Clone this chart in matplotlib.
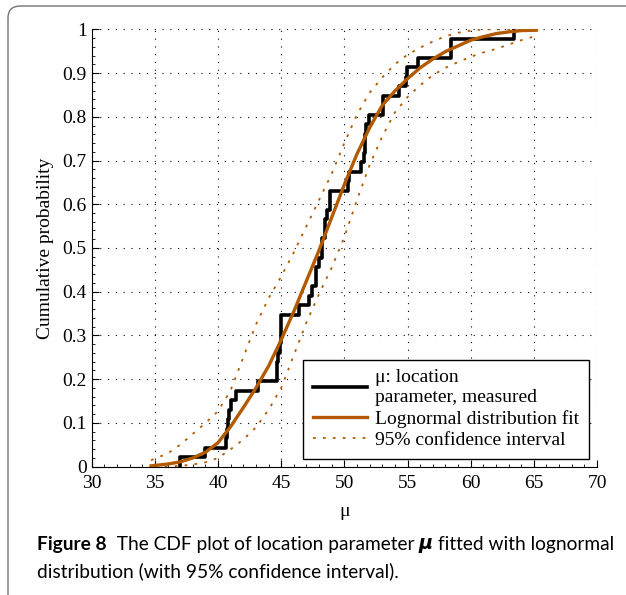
import numpy as np
import matplotlib.pyplot as plt
from matplotlib.patches import FancyBboxPatch
from matplotlib.ticker import MultipleLocator

# measured location parameter values (sorted)
mu_measured = [37.0, 39.0, 40.66, 40.68, 40.79, 40.85, 41.06, 41.45, 43.2,
               44.66, 44.7, 44.75, 44.93, 44.95, 44.97, 45.0, 46.4, 47.24,
               47.45, 47.72, 47.75, 48.03, 48.22, 48.25, 48.43, 48.45, 48.61,
               48.88, 48.9, 50.27, 50.35, 51.33, 51.59, 51.62, 51.65, 51.7,
               51.98, 53.03, 53.08, 54.35, 54.88, 54.92, 55.8, 58.43, 58.48,
               63.44]

# lognormal fit curve
fit_x = [34.7, 36, 37, 38, 39, 40, 41, 42, 43, 44, 45, 46, 47, 48, 49, 50,
         51, 52, 53, 54, 55, 56, 57, 58, 59, 60, 61, 62, 63, 64, 65.2]
fit_y = [0.002, 0.006, 0.011, 0.02, 0.033, 0.055, 0.092, 0.135, 0.18, 0.23,
         0.29, 0.355, 0.425, 0.495, 0.57, 0.645, 0.715, 0.775, 0.826, 0.859,
         0.887, 0.912, 0.932, 0.949, 0.962, 0.975, 0.983, 0.99, 0.994, 0.997,
         0.998]

# 95% confidence bounds
upper_x = [34.7, 36, 37, 38, 39, 40, 41, 42, 43, 44, 45, 46, 47, 48, 49, 50,
           51, 52, 53, 54, 55, 56, 57, 58, 59, 60, 61, 65.2]
upper_y = [0.015, 0.03, 0.05, 0.075, 0.1, 0.127, 0.175, 0.25, 0.325, 0.385,
           0.435, 0.49, 0.55, 0.61, 0.67, 0.74, 0.805, 0.855, 0.89, 0.92,
           0.942, 0.958, 0.972, 0.984, 0.992, 0.997, 1.0, 1.0]
lower_x = [35, 36, 37, 38, 39, 40, 41, 42, 43, 44, 45, 46, 47, 48, 49, 50,
           51, 52, 53, 54, 55, 56, 57, 58, 59, 60, 61, 62, 63, 64, 65.2]
lower_y = [0.0, 0.0005, 0.002, 0.005, 0.01, 0.02, 0.04, 0.062, 0.09, 0.13,
           0.18, 0.255, 0.33, 0.395, 0.455, 0.525, 0.61, 0.69, 0.755, 0.81,
           0.845, 0.872, 0.895, 0.912, 0.925, 0.937, 0.947, 0.955, 0.965,
           0.975, 0.985]

orange = '#b35a00'

plt.rcParams['font.family'] = ['Liberation Serif', 'DejaVu Serif']

fig = plt.figure(figsize=(6.26, 5.95), dpi=100)
ax = fig.add_axes([0.1465, 0.2156, 0.8072, 0.7352])

n = len(mu_measured)
ecdf = np.arange(1, n + 1) / n
ax.step(np.r_[mu_measured[0], mu_measured], np.r_[0, ecdf], where='post',
        color='black', lw=2.6, label='\u03bc: location\nparameter, measured')
ax.plot(fit_x, fit_y, color=orange, lw=2.4, label='Lognormal distribution fit')
ax.plot(upper_x, upper_y, color=orange, lw=1.3, ls=(0, (1.5, 4)),
        label='95% confidence interval')
ax.plot(lower_x, lower_y, color=orange, lw=1.3, ls=(0, (1.5, 4)))

ax.set_xlim(30, 70)
ax.set_ylim(0, 1)
ax.set_xticks(range(30, 71, 5))
yt = np.round(np.arange(0, 1.01, 0.1), 1)
ax.set_yticks(yt)
ax.set_yticklabels(['0'] + [f'{v:g}' for v in yt[1:-1]] + ['1'])
ax.xaxis.set_minor_locator(MultipleLocator(1))
ax.yaxis.set_minor_locator(MultipleLocator(0.02))
ax.tick_params(which='both', direction='in', labelsize=14)
ax.tick_params(which='major', length=5)
ax.tick_params(axis='x', which='major', pad=6)
ax.tick_params(which='minor', length=2.5)
ax.grid(True, which='major', color='black', lw=0.8, ls=(0, (1, 6)))
ax.spines['top'].set_visible(False)
ax.spines['right'].set_visible(False)
ax.set_xlabel('\u03bc', fontsize=14, labelpad=8)
ax.set_ylabel('Cumulative probability', fontsize=14, labelpad=6)

leg = ax.legend(loc='lower right', bbox_to_anchor=(0.984, 0.018), fontsize=14,
                fancybox=False, edgecolor='black', framealpha=1,
                handlelength=2.8, handletextpad=0.4, labelspacing=0.2,
                borderpad=0.5, borderaxespad=0)
leg.get_frame().set_linewidth(1.0)

# caption
cap_font = ['Lato', 'DejaVu Sans']
cs = 13.8
t1 = fig.text(37 / 626, 1 - 550 / 595, 'Figure 8', fontsize=cs,
              family=cap_font, weight='bold')
t2 = ax.annotate('  The CDF plot of location parameter ', xy=(1, 0),
                 xycoords=t1, va='bottom', fontsize=cs, family=cap_font,
                 annotation_clip=False)
t3 = ax.annotate('\u03bc', xy=(1, 0), xycoords=t2, va='bottom', fontsize=cs,
                 family=['DejaVu Sans'], weight='bold', style='italic',
                 annotation_clip=False)
ax.annotate(' fitted with lognormal', xy=(1, 0), xycoords=t3, va='bottom',
            fontsize=cs, family=cap_font, annotation_clip=False)
fig.text(37 / 626, 1 - 577 / 595,
         'distribution (with 95% confidence interval).', fontsize=cs,
         family=cap_font)

# panel frame
frame = FancyBboxPatch((8 / 626, -0.05), 1.1, 1.05 - 6 / 595,
                       boxstyle='round,pad=0,rounding_size=0.02',
                       transform=fig.transFigure, fill=False,
                       ec='0.45', lw=1.0)
fig.add_artist(frame)

fig.savefig('out.png', dpi=100)
